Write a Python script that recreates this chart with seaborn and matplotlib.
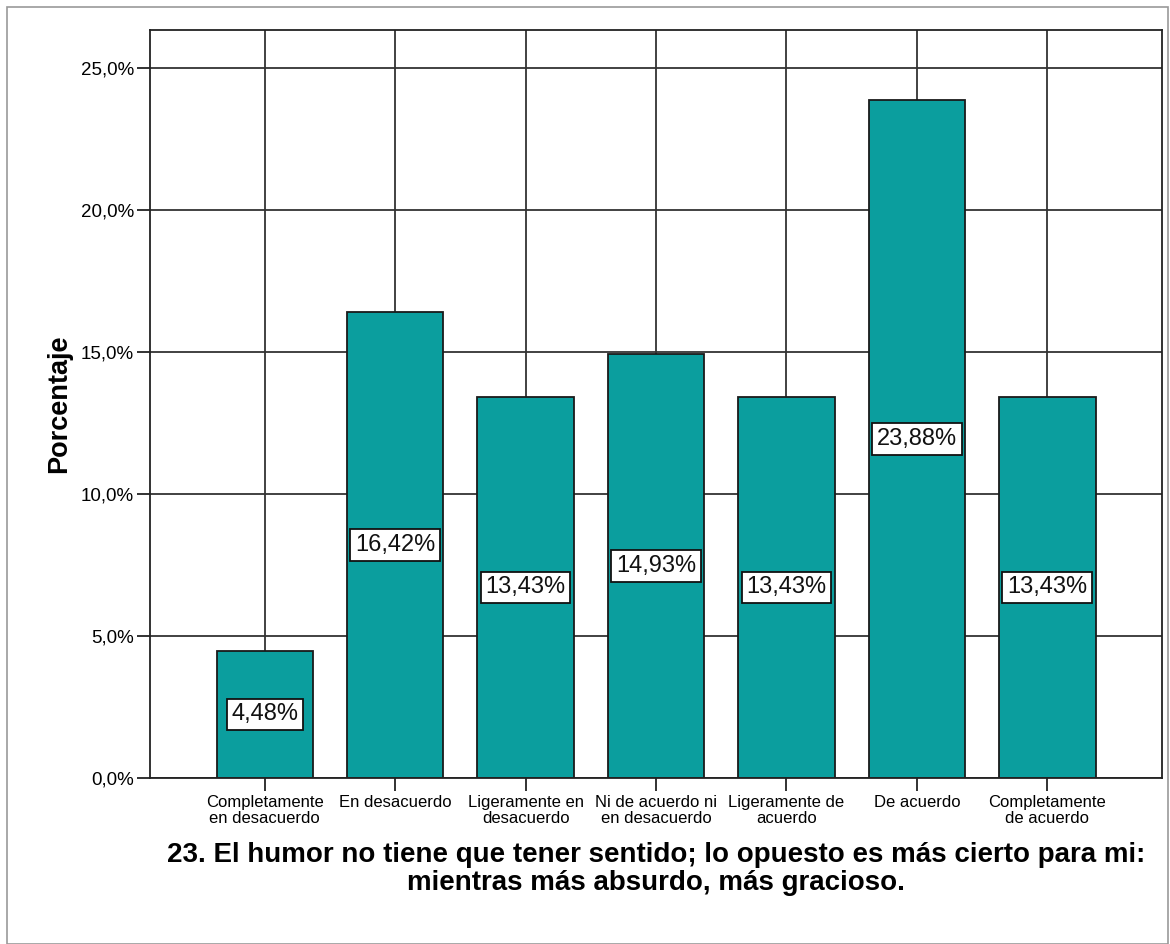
import numpy as np
import pandas as pd
import matplotlib
matplotlib.use("Agg")
import matplotlib.pyplot as plt
import seaborn as sns
from matplotlib.ticker import FuncFormatter, MultipleLocator

## data
categorias = ["Completamente\nen desacuerdo", "En desacuerdo", "Ligeramente en\ndesacuerdo",
              "Ni de acuerdo ni\nen desacuerdo", "Ligeramente de\nacuerdo", "De acuerdo",
              "Completamente\nde acuerdo"]
porcentajes = [4.48, 16.42, 13.43, 14.93, 13.43, 23.88, 13.43]
titulo = "23. El humor no tiene que tener sentido; lo opuesto es más cierto para mi:\nmientras más absurdo, más gracioso."

df = pd.DataFrame({"categoria": categorias, "porcentaje": porcentajes})

sns.set_theme(style="white")
plt.rcParams['font.family'] = ['Liberation Sans', 'DejaVu Sans']
plt.rcParams['text.color'] = 'black'
plt.rcParams['axes.labelcolor'] = 'black'
plt.rcParams['xtick.color'] = 'black'
plt.rcParams['ytick.color'] = 'black'

fig = plt.figure(figsize=(11.7, 9.44), dpi=100)
ax = fig.add_axes([0.1282, 0.1758, 0.865, 0.7924])

sns.barplot(data=df, x="categoria", y="porcentaje", color='#0b9e9e', saturation=1,
            width=0.74, edgecolor='#1a1a1a', linewidth=1.3, ax=ax, zorder=2)

# grid behind the bars (after barplot, which switches the x grid off)
ax.set_axisbelow(True)
ax.grid(True, axis='both', color='#333333', linewidth=1.3, zorder=0)

ax.set_xlim(-0.88, 6.88)
ax.set_ylim(0, 26.34)
ax.yaxis.set_major_locator(MultipleLocator(5))
ax.yaxis.set_major_formatter(FuncFormatter(lambda v, p: f"{v:.1f}%".replace('.', ',')))

# value labels in white boxes
for i, v in enumerate(porcentajes):
    ax.text(i, v / 2, f"{v:.2f}%".replace('.', ','), ha='center', va='center', fontsize=17,
            color='#111111', zorder=5,
            bbox=dict(boxstyle='square,pad=0.2', facecolor='white', edgecolor='#111111', linewidth=1.3))

for s in ax.spines.values():
    s.set_color('#222222')
    s.set_linewidth(1.3)

ax.tick_params(axis='both', direction='out', length=9.5, width=1.3, color='#222222', left=True, bottom=True)
ax.tick_params(axis='x', labelsize=12, pad=3)
ax.tick_params(axis='y', labelsize=13.5, pad=2)
for lab in ax.get_xticklabels():
    lab.set_linespacing(1.05)

ax.set_ylabel("Porcentaje", fontsize=19.5, fontweight='bold', labelpad=6)
ax.set_xlabel(titulo, fontsize=20, fontweight='bold', linespacing=1.12)
ax.xaxis.set_label_coords(0.5, -0.085, transform=ax.transAxes)
ax.xaxis.label.set_va('top')

# outer border of the figure
fig.patches.append(plt.Rectangle((0.006, 0.0), 0.992, 0.9925, transform=fig.transFigure,
                                 fill=False, edgecolor='#999999', linewidth=1.2))

plt.savefig("out.png", dpi=100)
